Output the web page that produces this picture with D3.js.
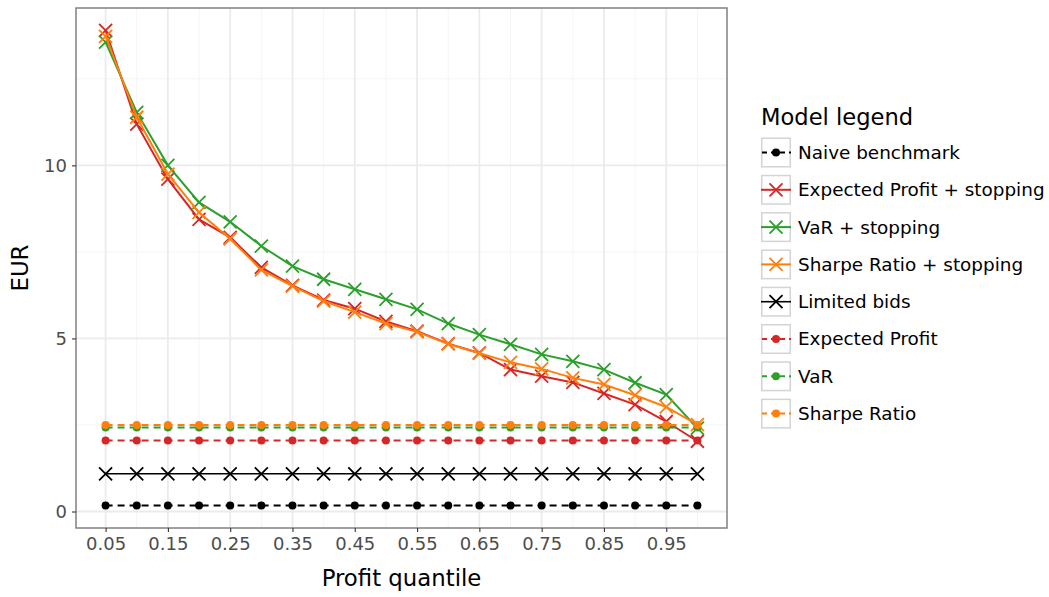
<!DOCTYPE html>
<html>
<head>
<meta charset="utf-8">
<script src="https://cdn.jsdelivr.net/npm/d3@7"></script>
<style>
  body { margin: 0; background: #fff; }
  text { font-family: "DejaVu Sans", sans-serif; }
</style>
</head>
<body>
<div id="chart"></div>
<script>
// Profit quantiles on the x axis
const quantiles = [0.05, 0.10, 0.15, 0.20, 0.25, 0.30, 0.35, 0.40, 0.45, 0.50,
                   0.55, 0.60, 0.65, 0.70, 0.75, 0.80, 0.85, 0.90, 0.95, 1.00];
const xTickLabels = ["0.05", "0.15", "0.25", "0.35", "0.45", "0.55", "0.65", "0.75", "0.85", "0.95"];
const yTicks = [0, 5, 10];

// Series values (EUR)
const naiveBenchmark = [0.17, 0.17, 0.17, 0.17, 0.17, 0.17, 0.17, 0.17, 0.17, 0.17,
                        0.17, 0.17, 0.17, 0.17, 0.17, 0.17, 0.17, 0.17, 0.17, 0.17];
const expProfitStop = [13.9, 11.19, 9.60, 8.44, 7.92, 7.05, 6.53, 6.11, 5.86, 5.49,
                       5.21, 4.85, 4.58, 4.10, 3.91, 3.73, 3.41, 3.09, 2.60, 2.03];
const varStop = [13.56, 11.53, 10.0, 8.93, 8.37, 7.67, 7.09, 6.71, 6.42, 6.13,
                 5.84, 5.43, 5.11, 4.83, 4.54, 4.34, 4.10, 3.72, 3.38, 2.41];
const sharpeStop = [13.73, 11.39, 9.75, 8.64, 7.88, 6.98, 6.51, 6.08, 5.76, 5.43,
                    5.19, 4.84, 4.57, 4.31, 4.12, 3.86, 3.67, 3.36, 3.02, 2.51];
const limitedBids = [1.09, 1.09, 1.09, 1.09, 1.09, 1.09, 1.09, 1.09, 1.09, 1.09,
                     1.09, 1.09, 1.09, 1.09, 1.09, 1.09, 1.09, 1.09, 1.09, 1.09];
const expProfit = [2.05, 2.05, 2.05, 2.05, 2.05, 2.05, 2.05, 2.05, 2.05, 2.05,
                   2.05, 2.05, 2.05, 2.05, 2.05, 2.05, 2.05, 2.05, 2.05, 2.05];
const varModel = [2.43, 2.43, 2.43, 2.43, 2.43, 2.43, 2.43, 2.43, 2.43, 2.43,
                  2.43, 2.43, 2.43, 2.43, 2.43, 2.43, 2.43, 2.43, 2.43, 2.43];
const sharpe = [2.50, 2.50, 2.50, 2.50, 2.50, 2.50, 2.50, 2.50, 2.50, 2.50,
                2.50, 2.50, 2.50, 2.50, 2.50, 2.50, 2.50, 2.50, 2.50, 2.50];

const modelNames = ["Naive benchmark", "Expected Profit + stopping", "VaR + stopping",
                    "Sharpe Ratio + stopping", "Limited bids", "Expected Profit", "VaR", "Sharpe Ratio"];
const modelValues = [naiveBenchmark, expProfitStop, varStop, sharpeStop, limitedBids, expProfit, varModel, sharpe];

const colorScale = d3.scaleOrdinal()
  .domain(modelNames)
  .range(["#000000", "#d62728", "#2ca02c", "#ff7f0e", "#000000", "#d62728", "#2ca02c", "#ff7f0e"]);
const shapeScale = d3.scaleOrdinal()
  .domain(modelNames)
  .range(["dot", "cross", "cross", "cross", "cross", "dot", "dot", "dot"]);
const dashScale = d3.scaleOrdinal()
  .domain(modelNames)
  .range(["7,5", null, null, null, null, "7,5", "7,5", "7,5"]);

const series = modelNames.map((name, i) => ({
  name: name,
  points: quantiles.map((q, j) => ({ q: q, v: modelValues[i][j] }))
}));

const width = 1049, height = 597;
const margin = { top: 8, right: 322, bottom: 69, left: 76 };

const svg = d3.select("#chart")
  .append("svg")
  .attr("width", width)
  .attr("height", height);

// ggplot-like 5% expansion
const xExt = d3.extent(quantiles);
const xPad = (xExt[1] - xExt[0]) * 0.05;
const allVals = modelValues.flat();
const yExt = d3.extent(allVals);
const yPad = (yExt[1] - yExt[0]) * 0.05;

const x = d3.scaleLinear()
  .domain([xExt[0] - xPad, xExt[1] + xPad])
  .range([margin.left, width - margin.right]);
const y = d3.scaleLinear()
  .domain([yExt[0] - yPad + 0.04, yExt[1] + yPad - 0.04])
  .range([height - margin.bottom, margin.top]);

const plotLeft = margin.left, plotRight = width - margin.right;
const plotTop = margin.top, plotBottom = height - margin.bottom;

// Minor grid
const xMajor = xTickLabels.map(Number);
const xMinor = xMajor.map(d => d + 0.05);
const yMinor = [2.5, 7.5, 12.5];

const grid = svg.append("g");
grid.selectAll(".xminor").data(xMinor).join("line")
  .attr("x1", d => x(d)).attr("x2", d => x(d))
  .attr("y1", plotTop).attr("y2", plotBottom)
  .attr("stroke", "#f5f5f5").attr("stroke-width", 1);
grid.selectAll(".yminor").data(yMinor).join("line")
  .attr("x1", plotLeft).attr("x2", plotRight)
  .attr("y1", d => y(d)).attr("y2", d => y(d))
  .attr("stroke", "#f5f5f5").attr("stroke-width", 1);
grid.selectAll(".xmajor").data(xMajor).join("line")
  .attr("x1", d => x(d)).attr("x2", d => x(d))
  .attr("y1", plotTop).attr("y2", plotBottom)
  .attr("stroke", "#ebebeb").attr("stroke-width", 1.8);
grid.selectAll(".ymajor").data(yTicks).join("line")
  .attr("x1", plotLeft).attr("x2", plotRight)
  .attr("y1", d => y(d)).attr("y2", d => y(d))
  .attr("stroke", "#ebebeb").attr("stroke-width", 1.8);

// Lines and points
const line = d3.line().x(d => x(d.q)).y(d => y(d.v));

function drawShape(sel, shape, color) {
  if (shape === "dot") {
    sel.append("circle").attr("r", 4).attr("fill", color);
  } else {
    const s = 6.5;
    sel.append("path")
      .attr("d", `M${-s},${-s}L${s},${s}M${-s},${s}L${s},${-s}`)
      .attr("stroke", color).attr("stroke-width", 1.8).attr("fill", "none");
  }
}

const seriesG = svg.append("g").selectAll("g").data(series).join("g");
seriesG.append("path")
  .attr("d", d => line(d.points))
  .attr("fill", "none")
  .attr("stroke", d => colorScale(d.name))
  .attr("stroke-width", d => d.name === "Limited bids" ? 1.6 : 2)
  .attr("stroke-dasharray", d => dashScale(d.name));
seriesG.each(function(d) {
  d3.select(this).selectAll(".pt").data(d.points).join("g")
    .attr("transform", p => `translate(${x(p.q)},${y(p.v)})`)
    .each(function() { drawShape(d3.select(this), shapeScale(d.name), colorScale(d.name)); });
});

// Panel border
svg.append("rect")
  .attr("x", plotLeft).attr("y", plotTop)
  .attr("width", plotRight - plotLeft).attr("height", plotBottom - plotTop)
  .attr("fill", "none").attr("stroke", "#808080").attr("stroke-width", 1.5);

// Axes
const xAxis = svg.append("g")
  .attr("transform", `translate(0,${plotBottom})`)
  .call(d3.axisBottom(x).tickValues(xMajor).tickFormat((d, i) => xTickLabels[i]).tickSize(4).tickPadding(5));
const yAxis = svg.append("g")
  .attr("transform", `translate(${plotLeft},0)`)
  .call(d3.axisLeft(y).tickValues(yTicks).tickSize(4).tickPadding(5));
[xAxis, yAxis].forEach(a => {
  a.select(".domain").remove();
  a.selectAll(".tick line").attr("stroke", "#333333").attr("stroke-width", 1.1);
  a.selectAll(".tick text").attr("fill", "#4d4d4d")
    .style("font-size", "18px").style("font-family", "DejaVu Sans, sans-serif");
});

svg.append("text")
  .attr("x", (plotLeft + plotRight) / 2).attr("y", 586)
  .attr("text-anchor", "middle")
  .style("font-size", "22.8px")
  .text("Profit quantile");
svg.append("text")
  .attr("transform", `translate(28,${(plotTop + plotBottom) / 2}) rotate(-90)`)
  .attr("text-anchor", "middle")
  .style("font-size", "22.8px")
  .text("EUR");

// Legend
const legend = svg.append("g").attr("transform", "translate(761,0)");
legend.append("text")
  .attr("x", 0).attr("y", 125)
  .style("font-size", "22.6px")
  .text("Model legend");

const rowH = 37.3, keyW = 30, keyTop = 137.5;
const items = legend.selectAll(".item").data(modelNames).join("g")
  .attr("transform", (d, i) => `translate(0,${keyTop + i * rowH})`);
items.append("rect")
  .attr("x", 0.75).attr("y", 0.75).attr("width", keyW - 1.5).attr("height", keyW - 1.5)
  .attr("fill", "#fff").attr("stroke", "#d4d4d4").attr("stroke-width", 1.5);
items.append("line")
  .attr("x1", 0).attr("x2", keyW).attr("y1", keyW / 2).attr("y2", keyW / 2)
  .attr("stroke", d => colorScale(d))
  .attr("stroke-width", d => d === "Limited bids" ? 1.6 : 2)
  .attr("stroke-dasharray", d => dashScale(d) ? "5,4" : null)
  .attr("stroke-dashoffset", d => dashScale(d) ? -1 : null);
items.each(function(d) {
  const g = d3.select(this).append("g").attr("transform", `translate(${keyW / 2},${keyW / 2})`);
  drawShape(g, shapeScale(d), colorScale(d));
});
items.append("text")
  .attr("x", 37).attr("y", keyW / 2)
  .attr("dy", "0.35em")
  .style("font-size", "18.4px")
  .text(d => d);
</script>
</body>
</html>
